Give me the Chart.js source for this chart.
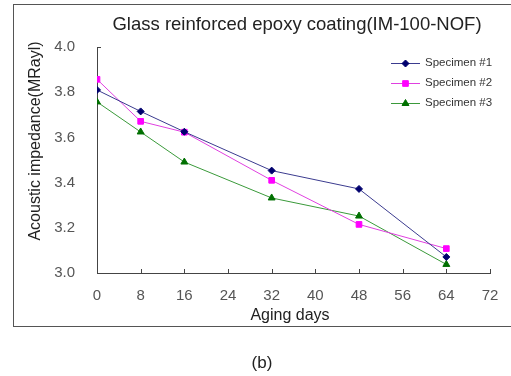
<!DOCTYPE html>
<html>
<head>
<meta charset="utf-8">
<script src="https://cdn.jsdelivr.net/npm/chart.js@4.4.1/dist/chart.umd.min.js"></script>
<style>
  html, body { margin: 0; padding: 0; background: #fff; }
  #wrap { width: 511px; height: 376px; }
</style>
</head>
<body>
<div id="wrap"><canvas id="agingChart" width="511" height="376"></canvas></div>
<script>
// aging days on the x axis
const agingDays = [0, 8, 16, 32, 48, 64];
const xTicks = [0, 8, 16, 24, 32, 40, 48, 56, 64, 72];
const yTicks = [3.0, 3.2, 3.4, 3.6, 3.8, 4.0];

// acoustic impedance (MRayl)
const specimen1 = [3.81, 3.715, 3.625, 3.453, 3.372, 3.071];
const specimen2 = [3.857, 3.671, 3.623, 3.41, 3.215, 3.108];
const specimen3 = [3.757, 3.624, 3.491, 3.332, 3.252, 3.038];

const seriesNames = ['Specimen #1', 'Specimen #2', 'Specimen #3'];

const chartTitle = 'Glass reinforced epoxy coating(IM-100-NOF)';
const yTitle = 'Acoustic impedance(MRayl)';
const xTitle = 'Aging days';
const caption = '(b)';

const FONT = '"Liberation Sans", Arial, sans-serif';

function toPoints(vals) {
    return agingDays.map((d, i) => ({ x: d, y: vals[i] }));
}

// frame, titles, inward ticks and the legend
const decor = {
    id: 'decor',
    afterDraw(chart) {
        const c = chart.ctx;
        const area = chart.chartArea;
        const xs = chart.scales.x, ys = chart.scales.y;
        c.save();

        // outer frame (runs off the right edge)
        c.strokeStyle = '#555';
        c.lineWidth = 1;
        c.strokeRect(13.5, 4.5, 520, 322);

        // inward ticks
        c.strokeStyle = '#444';
        c.beginPath();
        xTicks.forEach(v => {
            const px = Math.round(xs.getPixelForValue(v)) + 0.5;
            c.moveTo(px, area.bottom);
            c.lineTo(px, area.bottom - 4);
        });
        const ty = Math.round(ys.getPixelForValue(4.0)) + 0.5;
        c.moveTo(area.left, ty);
        c.lineTo(area.left + 4, ty);
        c.stroke();

        // chart title
        c.fillStyle = '#222';
        c.textAlign = 'center';
        c.textBaseline = 'middle';
        c.font = '18.5px ' + FONT;
        c.fillText(chartTitle, 297, 25);

        // axis titles
        c.font = '16px ' + FONT;
        c.fillText(xTitle, 290, 316);
        c.save();
        c.translate(36, 141);
        c.rotate(-Math.PI / 2);
        c.fillText(yTitle, 0, 0);
        c.restore();

        // caption
        c.font = '17px ' + FONT;
        c.fillText(caption, 262, 363);

        // legend
        c.font = '11.5px ' + FONT;
        c.textAlign = 'left';
        chart.data.datasets.forEach((ds, i) => {
            const ly = 63 + i * 20;
            c.strokeStyle = ds.borderColor;
            c.lineWidth = 1;
            c.beginPath();
            c.moveTo(391, ly + 0.5);
            c.lineTo(420, ly + 0.5);
            c.stroke();
            c.fillStyle = ds.backgroundColor;
            c.strokeStyle = ds.pointBorderColor;
            Chart.helpers.drawPoint(c, {
                pointStyle: ds.pointStyle,
                radius: ds.pointRadius,
                rotation: 0,
                borderWidth: 1
            }, 405.5, ly + 0.5);
            c.fillStyle = '#333';
            c.fillText(seriesNames[i], 425, ly);
        });

        c.restore();
    }
};

const ctx = document.getElementById('agingChart').getContext('2d');
const agingChart = new Chart(ctx, {
    type: 'line',
    data: {
        datasets: [
            {
                label: seriesNames[0],
                data: toPoints(specimen1),
                borderColor: '#3b3b8f',
                backgroundColor: '#00006e',
                pointBorderColor: '#00006e',
                pointStyle: 'rectRot',
                pointRadius: 3.5,
                borderWidth: 1
            },
            {
                label: seriesNames[1],
                data: toPoints(specimen2),
                borderColor: '#e040e0',
                backgroundColor: '#ff00ff',
                pointBorderColor: '#ff00ff',
                pointStyle: 'rect',
                pointRadius: 4,
                borderWidth: 1
            },
            {
                label: seriesNames[2],
                data: toPoints(specimen3),
                borderColor: '#3a9a3a',
                backgroundColor: '#007000',
                pointBorderColor: '#007000',
                pointStyle: 'triangle',
                pointRadius: 4,
                borderWidth: 1
            }
        ]
    },
    options: {
        responsive: false,
        animation: false,
        layout: {
            padding: { top: 47, right: 21, left: 0, bottom: 0 }
        },
        elements: {
            line: { tension: 0 }
        },
        plugins: {
            legend: { display: false },
            title: { display: false },
            tooltip: { enabled: false }
        },
        scales: {
            x: {
                type: 'linear',
                min: 0,
                max: 72,
                afterFit: s => { s.height = 103; },
                afterBuildTicks: s => { s.ticks = xTicks.map(v => ({ value: v })); },
                grid: { display: false },
                border: { display: true, color: '#444', width: 1 },
                ticks: {
                    padding: 6,
                    color: '#555',
                    font: { size: 15, family: FONT }
                }
            },
            y: {
                min: 3.0,
                max: 4.0,
                afterFit: s => { s.width = 97; },
                afterBuildTicks: s => { s.ticks = yTicks.map(v => ({ value: v })); },
                grid: { display: false },
                border: { display: true, color: '#444', width: 1 },
                ticks: {
                    padding: 14,
                    color: '#555',
                    font: { size: 15, family: FONT },
                    callback: v => Number(v).toFixed(1)
                }
            }
        }
    },
    plugins: [decor]
});
</script>
</body>
</html>
